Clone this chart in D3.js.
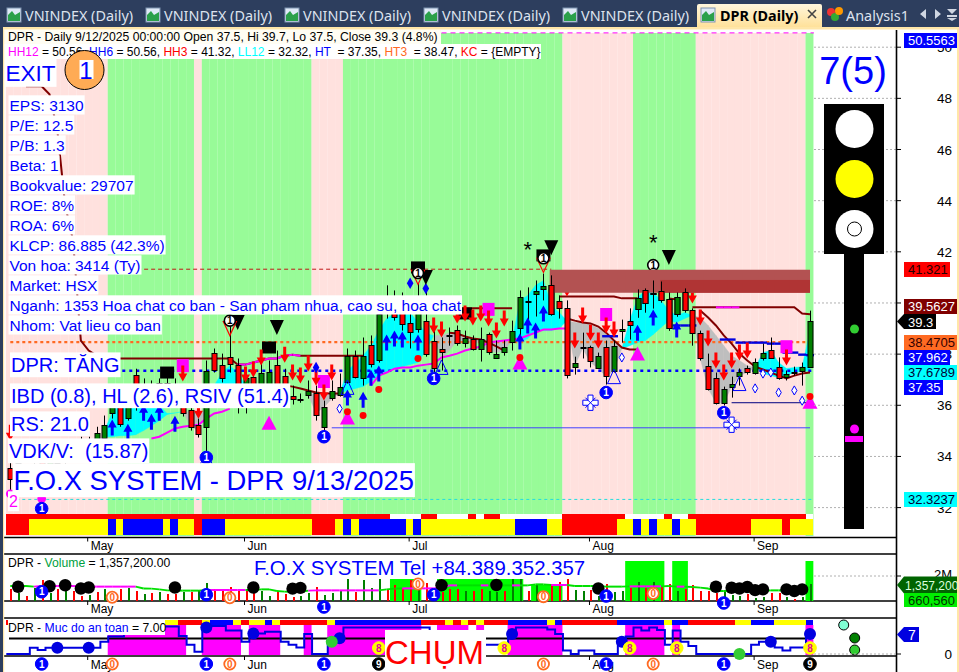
<!DOCTYPE html>
<html><head><meta charset="utf-8">
<script src="https://cdnjs.cloudflare.com/ajax/libs/d3/7.8.5/d3.min.js"></script>
<style>html,body{margin:0;padding:0;background:#fff;overflow:hidden}svg{display:block}text{font-family:"Liberation Sans",Arial,sans-serif;white-space:pre}</style>
</head><body><div id="c"></div>
<script>
// ---------- data: candles by bar index ----------
const opens=[33.56,33.05,33.44,33.25,33.84,33.68,34.03,33.92,34.31,34.15,34.54,34.42,34.74,35.71,36.38,35.52,37.20,36.77,36.26,36.89,36.50,36.77,36.38,35.83,35.24,35.16,38.06,37.59,37.87,37.59,36.66,37.12,36.81,36.77,37.59,37.16,36.38,36.26,36.38,36.50,35.16,36.26,36.38,36.93,37.94,37.08,38.37,37.75,40.18,40.10,40.10,39.20,38.96,39.31,38.53,38.22,38.75,38.96,38.45,38.61,38.22,38.77,37.87,38.06,38.49,39.04,40.09,40.33,40.53,40.72,40.06,39.82,37.51,38.26,38.26,37.48,38.26,37.36,38.92,39.31,39.79,40.49,40.40,40.45,40.14,39.59,40.41,39.71,38.81,37.55,37.08,36.07,36.73,37.16,37.44,37.28,37.87,38.18,37.51,37.12,37.32,37.32,37.5];
const closes=[33.13,33.76,32.98,33.64,33.44,34.15,33.76,34.23,34.03,34.62,34.23,34.93,35.24,36.18,35.28,36.38,35.99,36.18,36.77,36.38,36.89,36.26,35.71,35.16,34.89,37.36,37.40,37.08,37.59,36.77,37.05,36.58,37.28,37.32,36.77,36.50,36.26,36.26,36.54,35.64,35.95,36.54,36.70,37.94,37.12,37.94,37.63,39.55,39.63,39.43,39.16,38.84,40.10,38.02,37.48,38.10,38.75,38.45,38.65,38.22,38.61,38.06,38.02,38.26,38.92,40.25,40.09,40.45,40.65,39.59,39.79,37.20,37.67,38.26,37.71,37.94,37.12,38.33,38.99,39.16,40.21,39.98,40.40,40.10,39.00,40.25,39.71,38.81,37.83,36.66,36.10,36.62,36.85,37.32,37.28,37.71,38.06,37.87,37.08,37.24,37.32,37.48,39.3];
const highs=[34.62,34.03,33.64,33.92,34.15,34.38,34.31,34.46,34.62,34.77,34.77,35.16,35.60,36.50,36.66,36.66,37.43,37.05,36.97,37.05,37.20,37.05,36.77,36.18,35.48,37.75,38.22,38.02,39.24,37.83,37.48,37.43,37.75,37.75,38.14,37.43,36.77,36.46,36.97,36.77,36.18,36.97,37.24,38.22,38.14,38.65,38.73,40.10,40.69,40.49,40.41,39.98,40.77,40.61,38.92,38.65,39.04,39.12,38.92,38.73,39.04,38.84,38.53,38.53,39.31,40.49,40.61,40.88,41.15,41.08,40.29,40.10,37.90,38.84,38.33,38.06,38.53,38.53,39.35,39.79,40.53,40.57,40.88,40.84,40.41,40.41,40.57,39.79,38.92,38.02,37.28,36.73,37.12,37.44,37.55,37.83,38.41,38.65,37.87,37.36,37.51,37.67,39.7];
const lows=[32.66,32.86,32.78,33.05,33.21,33.44,33.52,33.68,33.84,33.92,33.99,34.23,34.54,35.48,35.16,35.40,35.79,35.95,36.03,36.18,36.18,36.07,35.56,35.01,34.74,33.84,37.28,36.89,37.28,35.68,35.68,36.34,36.50,36.50,36.50,36.26,36.03,36.10,36.26,35.40,34.97,36.18,36.34,36.85,37.05,36.77,37.48,37.67,39.39,39.31,38.92,38.22,38.84,37.90,37.28,37.36,38.33,38.33,38.26,38.14,37.71,37.98,37.83,37.94,38.14,38.45,39.31,39.47,40.10,39.51,39.39,37.05,37.20,37.83,37.48,37.44,36.81,37.28,38.45,38.57,39.43,39.63,39.79,40.02,38.92,39.47,39.63,38.33,37.75,36.58,36.03,35.99,36.30,36.77,37.20,37.20,37.75,37.83,37.00,36.97,37.16,36.77,37.5];
// ---------- data: indicator lines (price; null = no line) ----------
const cloudA=[null,null,null,null,null,null,null,null,null,null,null,null,35.01,35.71,36.10,36.26,36.58,36.38,36.18,35.99,35.68,35.70,35.75,35.16,35.01,35.75,36.77,37.28,37.55,37.28,36.77,null,null,null,null,null,null,null,36.38,35.71,35.91,36.26,36.46,37.36,37.63,37.94,38.33,38.92,39.39,39.59,39.67,39.63,39.24,38.81,38.73,37.83,38.14,38.53,38.45,38.45,38.45,38.14,38.06,38.14,38.53,40.10,40.29,40.69,40.88,39.90,39.63,39.31,37.55,38.22,37.67,37.44,37.12,37.36,38.22,39.31,40.21,40.49,40.41,40.10,39.71,39.51,39.63,39.51,37.83,36.66,36.10,36.07,36.73,37.16,37.28,37.48,38.06,38.14,37.67,37.44,37.48,37.51,38.92];
const cloudB=[null,null,null,null,null,null,null,null,null,null,null,null,34.77,34.77,34.81,34.81,34.85,35.01,35.20,35.40,35.64,35.70,35.75,35.75,35.75,35.75,36.18,36.18,36.18,36.18,36.18,null,null,null,null,null,null,null,36.38,36.50,36.38,36.42,36.46,36.58,36.66,36.73,36.93,37.16,37.28,37.43,37.51,37.59,37.67,38.14,38.73,38.73,38.84,38.84,38.61,38.61,38.61,38.53,38.53,38.53,38.53,38.45,38.61,38.92,38.92,38.92,39.00,39.31,39.24,39.24,39.16,39.00,38.84,38.53,38.22,38.33,38.45,38.53,38.77,39.04,39.31,39.24,39.39,39.51,39.43,39.12,38.73,38.33,37.94,37.75,37.55,37.48,37.24,37.16,37.08,37.16,37.28,37.32,37.36];
const slowRed=[null,null,null,null,null,null,null,null,null,null,null,null,null,null,null,null,null,null,null,null,null,null,null,null,null,null,null,null,null,null,null,null,null,null,null,36.77,36.73,36.66,36.58,36.50,36.46,36.46,36.46,null,null,null,null,null,null,null,null,null,null,null,null,null,38.84,38.81,38.69,38.61,38.57,38.45,38.30,38.14,null,null,null,null,null,null,null,39.39,39.31,39.24,39.20,39.08,38.84,38.53,38.26,38.18,38.18,null,null,null,null,null,null,null,39.71,39.43,39.12,38.73,38.41,38.02,37.75,37.51,37.40,37.28,37.16,37.05,37.16,37.24,37.28,null];
const slowMagenta=[null,null,null,null,null,null,null,null,null,null,null,null,null,null,null,null,null,null,34.70,34.77,34.93,35.09,35.16,35.20,35.24,35.48,35.68,35.75,35.87,null,null,null,null,null,null,null,null,null,null,null,null,null,null,null,null,null,36.77,37.16,37.28,37.43,37.48,37.48,37.55,37.59,37.63,37.87,37.94,38.02,38.14,38.22,38.30,38.45,38.49,38.53,38.57,38.61,38.73,38.84,38.96,38.96,39.00,39.00,null,null,null,null,null,null,null,null,null,null,null,null,null,null,null,null,null,null,null,null,null,null,null,null,null,null,null,null,null,null,null,null,null];
const stopLine=[null,null,48.47,48.47,48.47,48.16,46.75,43.82,42.45,38.53,38.14,37.94,37.67,37.83,37.83,37.83,37.83,37.83,37.83,37.83,37.83,37.83,37.83,37.83,37.83,37.83,37.83,37.83,37.83,37.59,37.59,37.67,37.75,37.83,37.83,37.94,37.98,37.94,37.94,37.94,37.94,37.94,37.94,37.94,37.94,37.94,null,null,39.79,39.79,39.79,39.79,39.79,39.79,39.79,39.79,39.79,39.79,39.79,39.79,39.79,39.79,39.79,39.79,39.79,null,null,null,null,null,40.25,40.25,40.25,40.25,40.25,40.25,40.25,40.25,40.18,40.18,40.18,null,null,null,40.18,40.14,null,39.83,39.83,39.83,39.83,39.83,39.83,39.83,39.83,39.83,39.83,39.83,39.83,39.83,39.83,39.59,39.56];
const stopMagenta=[29,30,31,32,33,34,35,36,90,91,92];
const blueIdx=[76,77,85,86,87,91,92,93,94,95,96,97,98,99,100,101,102];
const blueVal=[38.70,38.70,39.12,39.12,39.12,38.57,38.57,38.45,38.45,38.45,38.45,38.41,38.41,38.06,38.06,37.98,37.96];
// levels: value, colour, width, dash, first bar, last bar
const levelValues=[50.56,41.32,38.47,37.35,35.12,36.10,32.32];
const levelColors=["#ff00ff","#c01818","#ff6a22","#0000ff","#4040ff","#000080","#22dddd"];
const levelWidths=[1,1,2.4,2.4,1,1,1];
const levelDashes=["5,4","4,3","3,3","3,4",null,null,"3,3"];
const levelFrom=[55,1,0,0,41,92,0];
const levelTo=[102.5,69,102.5,102.5,102,102,102.5];
// ---------- data: background and strips (runs: kind, bars) ----------
const bandRuns=[["p",13],["g",11],["p",1],["g",14],["p",4],["g",28],["p",9],["g",8],["p",14],["g",1]];
const stripRuns=[["r",3],["y",10],["b",1],["y",1],["b",5],["y",1],["b",1],["y",2],["r",1],["b",3],["y",11],["r",3],["y",1],["b",1],["y",1],["b",6],["y",1],["b",1],["y",12],["b",4],["y",2],["r",7],["y",2],["b",1],["y",1],["b",1],["y",2],["b",1],["y",2],["r",7],["y",4],["r",1],["y",3]];
const topRuns=[["r",49],["w",4],["r",2],["w",4],["r",1],["w",1],["r",2],["w",8],["r",8],["w",5],["r",1],["w",2],["r",15],["w",1]];
const safeTopRuns=[["r",20],["y",2],["r",3],["y",1],["b",3],["y",1],["r",1],["y",2],["b",1],["y",1],["r",6],["y",1],["b",11],["r",3],["y",1],["r",1],["y",1],["r",1],["y",1],["r",3],["b",5],["y",1],["b",1],["r",7],["b",6],["y",1],["b",2],["r",6],["y",2],["b",3],["y",4],["b",1]];
const safeFill=[[13,23],[25,30],[31,35],[38,39],[41,53],[55,59],[60,61],[64,71],[79,84],[85,86],[102,103]];
// ---------- data: markers ----------
const redArrows=[[39,37.08],[41,37.28],[40,36.50],[54,39.12],[55,38.96],[57,39.51],[58,39.59],[59,39.43],[60,39.59],[61,39.39],[63,39.39],[62,38.92],[73,39.51],[72,38.53],[74,38.84],[75,38.53],[76,39.12],[77,38.96],[88,39.43],[89,38.61],[90,37.75],[91,37.28],[92,37.75],[93,38.06],[94,38.14],[99,37.87],[71,40.57],[87,40.29],[22,37.24],[24,35.79],[32,37.87],[35,37.98],[31,37.40],[30,37.20],[38,37.63],[36,37.28],[37,37.16],[0,34.93]];
const blueArrows=[[43,36.30],[45,36.22],[46,37.08],[47,37.24],[48,38.45],[49,38.61],[50,38.57],[52,38.45],[65,38.49],[66,39.12],[67,38.92],[68,39.59],[80,38.84],[82,39.43],[85,38.96],[13,35.13],[15,34.97],[17,35.71],[18,35.36],[19,35.71],[21,35.28]];
const magentaTri=[[43,35.52],[65,37.67],[80,38.02],[102,36.14],[33,35.32]];
const redDots=[[43,35.75],[52,37.83],[47,36.62],[45,35.60],[65,37.87],[102,36.34]];
const blueDots=[[39,37.48],[51,40.77],[53,40.57]];
const hollowDiamonds=[[78,37.87],[95,36.66],[98,36.50],[100,36.58],[101,36.18],[96,37.24],[97,37.28],[42,35.87]];
const hollowTri=[[43,36.70],[55,37.48],[77,37.12],[93,36.85],[25,33.92]];
const blackSquares=[[20,37.28],[33,38.26],[52,41.39],[68,41.86],[58,39.59]];
const blackTri=[[34,39.04],[29,39.24],[53,41.0],[69,42.16],[84,41.78]];
const redHollowTri=[[28,39.00],[52,41.0],[68,41.47]];
const blackRings=[[28,39.31],[52,41.17],[68,41.75],[82,41.48]];
const magentaSquares=[[22,37.55],[40,36.93],[61,39.75],[76,39.55],[99,38.29]];
const stars=[[66,42.21],[82,42.49]];
const blueOnes=[[4,31.96],[25,33.96],[40,34.77],[54,37.05],[76,36.50],[91,35.71]];
const flakes=[[74,36.10],[92,35.24]];
const magentaDots=[[0,32.54],[4,32.35]];
// ---------- data: volume (millions) ----------
const volumes=[.96,.64,.40,1.04,1.68,.64,.96,.96,.80,.40,.48,.72,.96,.64,.96,1.04,.80,.56,.64,.72,.56,.56,.72,.72,.88,1.44,.96,.96,1.12,.80,.80,.64,.80,.40,.80,.56,.32,.40,.64,1.12,.48,.64,.88,1.76,.72,1.68,1.04,1.76,.88,1.28,1.04,1.68,.96,1.44,.80,.72,.96,.96,.80,.80,.96,.80,.72,.80,1.76,1.76,.80,1.28,.72,1.36,1.52,1.76,.88,.80,.88,.40,1.36,.72,.80,1.04,1.52,1.04,1.52,1.12,1.36,.80,.96,1.28,.80,.80,.64,.72,.48,.40,.56,.24,.32,.64,.64,.32,.16,.32,1.36];
const volUp=[0,1,0,1,0,1,0,1,0,0,1,0,1,0,0,1,0,1,0,1,0,0,1,0,1,1,0,0,0,0,0,0,1,1,0,0,0,1,1,0,1,1,1,1,0,1,1,1,0,0,0,0,1,0,0,0,0,0,1,0,0,1,1,0,1,1,0,1,0,0,0,0,1,1,0,1,0,1,1,0,1,0,1,0,0,1,0,0,0,0,0,1,1,1,0,1,1,0,0,1,0,1,1];
const volMa=[1.2,1.2,1.2,1.15,1.2,1.2,1.2,1.2,1.2,1.15,1.15,1.15,1.15,1.15,1.15,1.15,1.15,1.0,.99,.93,.85,.83,.83,.83,.83,.88,.88,.88,.88,.88,.88,.88,.93,.93,.8,.75,.72,.72,.83,.85,.85,.85,.85,.85,.85,.85,.85,.85,.93,.99,1.01,1.01,1.01,1.01,1.01,1.01,1.25,1.25,1.25,1.25,1.25,1.25,1.25,1.25,1.25,1.25,1.25,1.33,1.33,1.28,1.28,1.28,1.2,1.2,1.2,1.2,1.15,1.15,1.15,1.17,1.17,1.17,1.17,1.17,1.2,1.15,1.15,1.12,1.07,1.0,.8,.8,.8,.8,.8,.8,.8,.85,.85,.85,.93,.93,1.1];
const volMaMagenta=[[3,16],[25,30],[38,47],[50,57],[60,61],[64,65],[69,71],[79,83],[85,86]];
const volBlocks=[[49,53,1.76],[55,66,1.76],[67,71,1.28],[79,84,3.2],[85,87,3.2],[102,103,3.2]];
const volDots=[[1,1.14],[5,1.18],[7,1.26],[9,1.0],[10,1.08],[21,1.08],[31,1.08],[36,.99],[37,1.05],[55,1.26],[62,1.28],[75,1.0],[90,1.14],[92,1.06],[93,1.0],[94,1.12],[95,.87],[96,.93],[99,.93],[100,.8],[101,.93]];
const volOnes=[[4,.74],[25,.5],[54,.5],[76,.4],[91,-.16],[40,-.48]];
const volZeros=[[13,.3],[28,.26],[52,1.36],[68,.35],[82,.6]];
// ---------- data: safety level ----------
const safety=[0,0,0,2.2,1.4,2.2,2.2,2.2,2.2,2.2,2.2,2.2,4.3,6.1,6.1,7.8,8.4,8.4,8.4,8.4,9.6,9.6,6.3,3.2,.8,9.3,9.8,9.8,8.2,8.2,4.3,7.2,7.2,7.8,7.8,4.3,3.2,2.3,7.0,0,0,4.3,5.5,9.3,9.3,9.3,9.3,9.3,9.3,9.3,9.3,9.3,9.3,9.3,8.0,7.0,7.0,6.5,6.0,5.5,5.5,3.2,3.2,3.2,7.0,9.3,9.3,9.3,9.3,8.6,7.0,1.2,0,1.2,1.2,0,0,0,4.3,6.1,9.3,8.2,9.3,8.4,3.2,8.2,4.3,2.8,0,0,0,0,0,0,0,3.2,4.3,4.3,2.3,1.2,2.3,2.3,7.0];
const safetyDots=[6,10,25,31,42,64,78,97,102];
const safetyGreen=[41,93];
const safetyEights=[47,63,79,85,102];
const rowOnes=[4,25,40,76,91];
const rowZeros=[13,28,68,82];
const rowNines=[47,102];
const sideDots=[[106.3,10.15,"#7fffd4"],[107.7,5.6,"#008000"],[107.7,1.4,"#32cd32"]];
// ---------- data: axis and labels ----------
const priceTicks=[32,34,36,38,40,42,44,46,48,50];
const monthIdx=[10,30,51,74,95];
const monthNames=["May","Jun","Jul","Aug","Sep"];
const infoLines=["EPS: 3130","P/E: 12.5","P/B: 1.3","Beta: 1","Bookvalue: 29707","ROE: 8%","ROA: 6%","KLCP: 86.885 (42.3%)","Von hoa: 3414 (Ty)","Market: HSX","Nganh: 1353 Hoa chat co ban - San pham nhua, cao su, hoa chat","Nhom: Vat lieu co ban"];
const tabNames=["VNINDEX (Daily)","VNINDEX (Daily)","VNINDEX (Daily)","VNINDEX (Daily)","VNINDEX (Daily)"];
const badgeTexts=["50.5563","41.321","39.5627","38.4705","37.962","37.6789","37.35","32.3237"];
const badgeFills=["#0000ff","#ff0000","#800000","#ff6a22","#0000ff","#00ffff","#0000ff","#00ffff"];
const badgeInk=["#fff","#200","#fff","#300","#fff","#003","#fff","#003"];
const badgeWidths=[53,46,53,53,46,53,39,53];
const badgeTop=[33,262,299,335,350,365,380,492];

// ---------- scales ----------
const W=959,H=672;
const x=d3.scaleLinear().domain([0,102]).range([10.3,810]);
const y=d3.scaleLinear().domain([32,50]).range([507.6,47.2]);
const yVol=d3.scaleLinear().domain([0,2]).range([601,576]);
const ySafe=d3.scaleLinear().domain([0,7]).range([654,634]);
const edge=i=>x(i)-4.5;
const svg=d3.select("#c").append("svg").attr("width",W).attr("height",H);
const expand=r=>r.flatMap(([k,n])=>Array(n).fill(k));
svg.append("defs");
const BLUE="#0000ff";

// ---------- main panel ----------
const bandColor={p:"#ffe1de",g:"#98fb98"};
const main=svg.append("g");
main.selectAll(".b").data(expand(bandRuns)).join("rect").attr("class","b").attr("x",(d,i)=>edge(i)).attr("y",33).attr("width",7.94).attr("height",503).attr("fill",d=>bandColor[d]);

// price grid right of the bars
svg.append("g").selectAll("line").data(priceTicks).join("line").attr("x1",814).attr("x2",896).attr("y1",d=>y(d)).attr("y2",d=>y(d)).attr("stroke","#b0b0b0").attr("stroke-dasharray","2,2");

// cloud
const cloud=main.append("g");
for(let i=0;i<102;i++){
  if(cloudA[i]==null||cloudA[i+1]==null)continue;
  const up=(cloudA[i]+cloudA[i+1])>=(cloudB[i]+cloudB[i+1]);
  const area=d3.area().x(k=>x(k)).y0(k=>y(cloudB[k])).y1(k=>y(cloudA[k]));
  cloud.append("path").attr("d",area([i,i+1])).attr("fill",up?"#00ffff":"#bebebe").attr("stroke",up?"#00ffff":"#bebebe").attr("stroke-width",.4);
}
// levels
main.append("g").selectAll("line").data(levelValues).join("line").attr("x1",(d,i)=>x(levelFrom[i])).attr("x2",(d,i)=>x(levelTo[i])).attr("y1",d=>y(d)).attr("y2",d=>y(d))
 .attr("stroke",(d,i)=>levelColors[i]).attr("stroke-width",(d,i)=>levelWidths[i]).attr("stroke-dasharray",(d,i)=>levelDashes[i]);
// lines
const lineOf=arr=>d3.line().defined(k=>arr[k]!=null).x(k=>x(k)).y(k=>y(arr[k]));
const idx=d3.range(103);
main.append("path").attr("d",lineOf(slowMagenta)(idx)).attr("fill","none").attr("stroke","#ff00ff").attr("stroke-width",2);
main.append("path").attr("d",lineOf(slowRed)(idx)).attr("fill","none").attr("stroke","#800000").attr("stroke-width",2);
main.append("path").attr("d",lineOf(stopLine)(idx)).attr("fill","none").attr("stroke","#800000").attr("stroke-width",2);
for(const i of stopMagenta){ if(stopLine[i]!=null&&stopLine[i+1]!=null)
  main.append("path").attr("d",lineOf(stopLine)([i,i+1])).attr("fill","none").attr("stroke","#ff00ff").attr("stroke-width",2);}
blueIdx.forEach((k,j)=>{ main.append("line").attr("x1",x(k)-4).attr("x2",x(k)+4).attr("y1",y(blueVal[j])).attr("y2",y(blueVal[j])).attr("stroke","#0000e0").attr("stroke-width",2.4);});

const arrowPath="M-1.5,-8 H1.5 V0 H4.5 L0,8 L-4.5,0 H-1.5 Z";
const put=(data)=>main.append("g").selectAll("path").data(data).join("path").attr("transform",d=>`translate(${x(d[0])},${y(d[1])})`);
const snapX=i=>Math.round(x(i));
// candles
function drawCandles(bars){
 const candle=main.append("g");
 candle.selectAll("line").data(bars).join("line").attr("x1",i=>snapX(i)+.5).attr("x2",i=>snapX(i)+.5).attr("y1",i=>y(highs[i])).attr("y2",i=>y(lows[i])).attr("stroke","#000");
 candle.selectAll("rect").data(bars).join("rect")
  .attr("x",i=>snapX(i)-2).attr("width",5)
  .attr("y",i=>Math.round(y(Math.max(opens[i],closes[i])))+.5)
  .attr("height",i=>Math.max(1,Math.round(Math.abs(y(opens[i])-y(closes[i])))))
  .attr("fill",i=>closes[i]>opens[i]?"#008000":closes[i]<opens[i]?"#ff0000":"#000")
  .attr("stroke","#000");
}
drawCandles(idx);

// markers
const sym=(t,s)=>d3.symbol().type(t).size(s)();
put(blackSquares).attr("d","M-7,-6 H7 V6 H-7 Z").attr("fill","#000");
put(magentaSquares).attr("d","M-6,-6.5 H6 V6.5 H-6 Z").attr("fill","#ff00ff");
put(redArrows).attr("d",arrowPath).attr("fill","#ff0000");
put(blueArrows).attr("d",arrowPath).attr("transform",d=>`translate(${x(d[0])},${y(d[1])}) rotate(180)`).attr("fill","#0000ff");
put(magentaTri).attr("d","M0,-7 L7.5,7 H-7.5 Z").attr("fill","#ff00ff");
put(redDots).attr("d",sym(d3.symbolCircle,38)).attr("fill","#ff0000");
put(blueDots).attr("d",sym(d3.symbolDiamond,38)).attr("fill","#0000ff");
put(hollowDiamonds).attr("d",sym(d3.symbolDiamond,24)).attr("fill","#fff").attr("stroke","#0000ff");
put(hollowTri).attr("d","M0,-7.5 L6.5,7 H-6.5 Z").attr("fill","none").attr("stroke","#0000ff");
put(blackTri).attr("d","M-7,-7.5 H7 L0,7.5 Z").attr("fill","#000");
put(redHollowTri).attr("d","M-6.5,-7 H6.5 L0,7 Z").attr("fill","none").attr("stroke","#ff0000").attr("stroke-width",1.2);
put(blackRings).attr("d",sym(d3.symbolCircle,95)).attr("fill","#fff").attr("stroke","#000").attr("stroke-width",1.6);
main.append("g").selectAll("text").data(blackRings).join("text").attr("x",d=>x(d[0])).attr("y",d=>y(d[1])+3.5).attr("text-anchor","middle").attr("font-size",10).attr("font-weight","bold").attr("fill","#000").text("1");
put(flakes).attr("d",sym(d3.symbolCross,130)).attr("fill","#fff").attr("stroke","#0000ff");
put(flakes).attr("d","M-5,-5 L5,5 M5,-5 L-5,5").attr("stroke","#0000ff").attr("fill","none");
put(magentaDots).attr("d",sym(d3.symbolCircle,60)).attr("fill","#ff00ff");
main.append("g").selectAll("text").data(stars).join("text").attr("x",d=>x(d[0])).attr("y",d=>y(d[1])+11).attr("text-anchor","middle").attr("font-size",22).attr("fill","#000").text("*");

function digit(g,cx,cy,t,kind){
 const st={blue:["#0000ff","#0000ff","#fff"],orange:["#fff","#ff6a22","#ff6a22"],yellow:["#ffff00","#ffff00","#e000a0"],black:["#000","#000","#fff"]}[kind];
 g.append("circle").attr("cx",cx).attr("cy",cy).attr("r",kind=="orange"?5.6:6.3).attr("fill",st[0]).attr("stroke",st[1]).attr("stroke-width",kind=="orange"?1.8:1);
 g.append("text").attr("x",cx).attr("y",cy+3.5).attr("text-anchor","middle").attr("font-size",10).attr("font-weight","bold").attr("fill",st[2]).text(t);
}
blueOnes.forEach(d=>digit(main,x(d[0]),y(d[1]),"1","blue"));

// supply zone sits over the markers; candles that cross it are drawn again on top
main.append("rect").attr("x",x(68.8)).attr("y",y(41.3)).attr("width",x(102)-x(68.8)).attr("height",y(40.4)-y(41.3)).attr("fill","#b35252");
main.append("rect").attr("x",x(82.9)).attr("y",y(40.9)).attr("width",x(102)-x(82.9)).attr("height",y(40.4)-y(40.9)).attr("fill","#b03434");
drawCandles(idx.filter(i=>i>=69&&highs[i]>40.4));

// strip
const strip=svg.append("g").attr("shape-rendering","crispEdges");
const stripColor={r:"#ff0000",y:"#ffff00",b:"#0000ff",w:"#ffffff"};
strip.selectAll(".a").data(expand(topRuns)).join("rect").attr("class","a").attr("x",(d,i)=>edge(i)).attr("y",514).attr("width",7.94).attr("height",5).attr("fill",d=>stripColor[d]);
strip.selectAll(".s").data(expand(stripRuns)).join("rect").attr("class","s").attr("x",(d,i)=>edge(i)).attr("y",519).attr("width",7.94).attr("height",16).attr("fill",d=>stripColor[d]);

// header legend
const hdr=svg.append("g").attr("font-size",12);
hdr.append("rect").attr("x",4).attr("y",30).attr("width",437).attr("height",14).attr("fill","#fffdf3");
hdr.append("rect").attr("x",4).attr("y",44).attr("width",537).attr("height",15).attr("fill","#fff");
hdr.append("text").attr("x",8).attr("y",41).attr("font-size",12.2).attr("fill","#000").text("DPR - Daily 9/12/2025 00:00:00 Open 37.5, Hi 39.7, Lo 37.5, Close 39.3 (4.8%)");
const second=[["HH12","#ff00ff"],[" = 50.56, ","#000"],["HH6","#0000ff"],[" = 50.56, ","#000"],["HH3","#ff0000"],[" = 41.32, ","#000"],["LL12","#00ffff"],[" = 32.32, ","#000"],["HT ","#0000ff"],[" = 37.35, ","#000"],["HT3 ","#ff6a22"],[" = 38.47, ","#000"],["KC","#ff0000"],[" = {EMPTY}","#000"]];
const t2=hdr.append("text").attr("x",8).attr("y",55.5);
second.forEach(([s,c])=>t2.append("tspan").attr("fill",c).text(s));

// boxed labels
function boxed(tx,ty,str,size,opts={}){
 const g=svg.append("g");
 const t=g.append("text").attr("x",tx).attr("y",ty).attr("font-size",size).attr("fill",opts.color||BLUE).text(str);
 const w=t.node().getComputedTextLength();
 const pad=opts.pad==null?1:opts.pad;
 g.insert("rect","text").attr("x",tx-pad).attr("y",ty-size*.98).attr("width",w+pad*2).attr("height",size*1.24).attr("fill","#fff");
}
infoLines.forEach((s,i)=>boxed(9.5,110.5+i*20,s,15.5));
boxed(5.5,81,"EXIT",22.5,{pad:1});
svg.append("circle").attr("cx",84.5).attr("cy",70).attr("r",19.5).attr("fill","#ffab55").attr("stroke","#000");
svg.append("rect").attr("x",79.5).attr("y",60).attr("width",14).attr("height",19).attr("fill","#fff");
svg.append("text").attr("x",86).attr("y",79).attr("text-anchor","middle").attr("font-size",24).attr("fill",BLUE).text("1");
boxed(11,372,"DPR: TĂNG",20,{pad:1});
boxed(11,403,"IBD (0.8), HL (2.6), RSIV (51.4)",20,{pad:1});
boxed(11,431,"RS: 21.0",20,{pad:1});
boxed(9,458,"VDK/V:  (15.87)",20,{pad:1});
boxed(13.5,490,"F.O.X SYSTEM - DPR 9/13/2025",27.4,{pad:1});
boxed(9,507,"2",16,{color:"#ff00ff",pad:1});

// traffic light
const tl=svg.append("g");
tl.append("text").attr("x",853).attr("y",84).attr("text-anchor","middle").attr("font-size",38).attr("fill",BLUE).text("7(5)");
tl.append("rect").attr("x",824).attr("y",104).attr("width",60).attr("height",150).attr("fill","#000");
tl.append("rect").attr("x",844).attr("y",254).attr("width",20).attr("height",275).attr("fill","#000");
tl.append("circle").attr("cx",854.5).attr("cy",129).attr("r",19).attr("fill","#fff");
tl.append("circle").attr("cx",854.5).attr("cy",179).attr("r",19).attr("fill","#ffff00");
tl.append("circle").attr("cx",854.5).attr("cy",229).attr("r",19).attr("fill","#fff");
tl.append("circle").attr("cx",854.5).attr("cy",229).attr("r",7).attr("fill","#fff").attr("stroke","#000");
tl.append("circle").attr("cx",854.5).attr("cy",329).attr("r",4.5).attr("fill","#32cd32");
tl.append("circle").attr("cx",854.5).attr("cy",429).attr("r",4.5).attr("fill","#ff00ff");
tl.append("rect").attr("x",845).attr("y",436).attr("width",18).attr("height",6).attr("fill","#ff00ff");

// ---------- panel rules, month axes ----------
const rules=svg.append("g").attr("stroke","#000");
[537.5,554,601,618,656].forEach(v=>rules.append("line").attr("x1",4).attr("x2",896).attr("y1",v).attr("y2",v).attr("stroke-width",1.6));
rules.append("line").attr("x1",896.5).attr("x2",896.5).attr("y1",30).attr("y2",672).attr("stroke-width",1.6);
[[537.5,545],[601,608],[656,664]].forEach(([ln,ty],row)=>{
 monthIdx.forEach((m,j)=>{
  if(row==2&&monthNames[j]=="Jul")return;   // covered by the CHỤM box in the source
  const tx=x(m)-1;
  svg.append("line").attr("x1",tx).attr("x2",tx).attr("y1",ln).attr("y2",ln+4).attr("stroke","#000");
  svg.append("text").attr("x",tx+3).attr("y",ty+4.5).attr("font-size",12).attr("fill","#000").text(monthNames[j]);
 });
});

// ---------- volume panel ----------
const vol=svg.append("g");
vol.selectAll(".blk").data(volBlocks).join("rect").attr("class","blk").attr("x",d=>edge(d[0])).attr("width",d=>edge(d[1])-edge(d[0])).attr("y",d=>yVol(d[2])).attr("height",d=>601-yVol(d[2])).attr("fill","#00ff00");
vol.selectAll(".vb").data(volumes).join("rect").attr("class","vb").attr("x",(d,i)=>snapX(i)).attr("width",2).attr("y",d=>yVol(d)).attr("height",d=>601-yVol(d)).attr("fill",(d,i)=>volUp[i]?"#008000":"#ff0000");
const isMag=i=>volMaMagenta.some(([a,b])=>i>=a&&i<b);
for(let i=0;i<102;i++){
 vol.append("line").attr("x1",x(i)).attr("x2",x(i+1)).attr("y1",yVol(volMa[i])).attr("y2",yVol(volMa[i+1])).attr("stroke",isMag(i)?"#ff00ff":"#00e000").attr("stroke-width",2);
}
vol.selectAll(".vd").data(volDots).join("circle").attr("class","vd").attr("cx",d=>x(d[0])).attr("cy",d=>yVol(d[1])).attr("r",6.2).attr("fill","#000");
volOnes.forEach(d=>digit(vol,x(d[0]),yVol(d[1]),"1","blue"));
volZeros.forEach(d=>digit(vol,x(d[0]),yVol(d[1]),"0","orange"));
const vt=vol.append("text").attr("x",8).attr("y",567).attr("font-size",12.2);
[["DPR - ","#000"],["Volume","#00a040"],[" = 1,357,200.00","#000"]].forEach(([s,c])=>vt.append("tspan").attr("fill",c).text(s));
vol.append("text").attr("x",254).attr("y",575).attr("font-size",20.4).attr("fill",BLUE).text("F.O.X SYSTEM Tel +84.389.352.357");
vol.append("line").attr("x1",814).attr("x2",896).attr("y1",yVol(2)).attr("y2",yVol(2)).attr("stroke","#b0b0b0").attr("stroke-dasharray","2,2");

// ---------- safety panel ----------
const safe=svg.append("g");
safe.selectAll(".sf").data(safeFill).join("rect").attr("class","sf").attr("x",d=>edge(d[0])).attr("width",d=>edge(d[1])-edge(d[0])).attr("y",625).attr("height",30).attr("fill","#ff00ff");
safe.append("g").attr("shape-rendering","crispEdges").selectAll("rect").data(expand(safeTopRuns)).join("rect").attr("x",(d,i)=>edge(i)).attr("y",620).attr("width",7.94).attr("height",5).attr("fill",d=>stripColor[d]);
safe.append("line").attr("x1",9).attr("x2",806).attr("y1",638.5).attr("y2",638.5).attr("stroke","#000").attr("stroke-width",2);
safe.append("path").attr("d",d3.line().curve(d3.curveStepAfter).x(i=>x(i)-4).y(i=>ySafe(safety[i]))(idx)).attr("fill","none").attr("stroke","#0000e0").attr("stroke-width",2);
safe.selectAll(".sd").data(safetyDots).join("circle").attr("class","sd").attr("cx",i=>x(i)).attr("cy",i=>ySafe(safety[i])).attr("r",6).attr("fill","#0000e0");
safe.selectAll(".sg").data(safetyGreen).join("circle").attr("class","sg").attr("cx",i=>x(i)).attr("cy",i=>ySafe(safety[i])).attr("r",6).attr("fill","#33cc33");
safe.selectAll(".sx").data(sideDots).join("circle").attr("class","sx").attr("cx",d=>x(d[0])).attr("cy",d=>ySafe(d[1])).attr("r",5).attr("fill",d=>d[2]).attr("stroke","#000");
safetyEights.forEach(i=>digit(safe,x(i),ySafe(2.1),"8","yellow"));
rowOnes.forEach(i=>digit(safe,x(i),664,"1","blue"));
rowZeros.forEach(i=>digit(safe,x(i),664,"0","orange"));
rowNines.forEach(i=>digit(safe,x(i),664,"9","black"));
safe.append("rect").attr("x",7).attr("y",620).attr("width",158).attr("height",15).attr("fill","#fff");
safe.append("rect").attr("x",6).attr("y",620).attr("width",2).attr("height",5).attr("fill","#f00");
const st=safe.append("text").attr("x",8).attr("y",632).attr("font-size",12.2);
[["DPR - ","#000"],["Muc do an toan","#0000ff"],[" = 7.00","#000"]].forEach(([s,c])=>st.append("tspan").attr("fill",c).text(s));
safe.append("rect").attr("x",385).attr("y",630).attr("width",101).attr("height",42).attr("fill","#fff");
safe.append("text").attr("x",385).attr("y",664).attr("font-size",33).attr("fill","#ff0000").text("CHỤM");

// price ticks
const pa=svg.append("g");
pa.selectAll("line").data(priceTicks).join("line").attr("x1",896).attr("x2",901).attr("y1",d=>y(d)).attr("y2",d=>y(d)).attr("stroke","#000");
pa.selectAll("text").data(priceTicks).join("text").attr("x",952).attr("y",d=>y(d)+5).attr("text-anchor","end").attr("font-size",13.5).attr("fill","#000").text(d=>d);
pa.append("line").attr("x1",896).attr("x2",901).attr("y1",yVol(2)).attr("y2",yVol(2)).attr("stroke","#000");
pa.append("text").attr("x",952).attr("y",yVol(2)+3).attr("text-anchor","end").attr("font-size",13).text("2M");
pa.append("line").attr("x1",896).attr("x2",901).attr("y1",ySafe(0)).attr("y2",ySafe(0)).attr("stroke","#000");
pa.append("text").attr("x",952).attr("y",ySafe(0)+5).attr("text-anchor","end").attr("font-size",13.5).text("0");
svg.append("line").attr("x1",814).attr("x2",896).attr("y1",ySafe(0)).attr("y2",ySafe(0)).attr("stroke","#b0b0b0").attr("stroke-dasharray","2,2");

// badges
const bd=svg.append("g");
badgeTexts.forEach((t,i)=>{
 bd.append("rect").attr("x",904).attr("y",badgeTop[i]).attr("width",badgeWidths[i]).attr("height",15).attr("fill",badgeFills[i]);
 bd.append("text").attr("x",908).attr("y",badgeTop[i]+12).attr("font-size",13).attr("fill",badgeInk[i]).text(t);
});
function flag(xL,xR,yC,h,fill,ink,str,tx,fs){
 bd.append("path").attr("d",`M${xL},${yC} L${xL+7},${yC-h/2} H${xR} V${yC+h/2} H${xL+7} Z`).attr("fill",fill);
 bd.append("text").attr("x",tx).attr("y",yC+5).attr("font-size",fs).attr("fill",ink).text(str);
}
flag(897,936,321.5,15,"#000","#fff","39.3",908,13);
flag(897,957,585,17,"#006400","#ddffdd","1,357,200",905,12);
bd.append("rect").attr("x",904).attr("y",593).attr("width",53).attr("height",14).attr("fill","#00ee00");
bd.append("text").attr("x",908).attr("y",605).attr("font-size",13).attr("fill","#003300").text("660,560");
flag(897,919,634.5,15,"#0000e0","#fff","7",908,14);

// ---------- window chrome ----------
const ch=svg.append("g");
ch.append("rect").attr("x",0).attr("y",0).attr("width",W).attr("height",27).attr("fill","#2d3e5e");
ch.append("rect").attr("x",0).attr("y",0).attr("width",3).attr("height",H).attr("fill","#2d3e5e");
ch.append("rect").attr("x",3).attr("y",27).attr("width",W-3).attr("height",2.5).attr("fill","#ffe6a8");
ch.append("rect").attr("x",3).attr("y",27).attr("width",1.2).attr("height",H).attr("fill","#ffe6a8");
ch.append("rect").attr("x",957).attr("y",27).attr("width",2).attr("height",H).attr("fill","#ffe6a8");
const icon=(ix)=>{
 ch.append("rect").attr("x",ix).attr("y",8).attr("width",14).attr("height",14).attr("fill","#dfe9f7").attr("stroke","#7f93b0");
 ch.append("path").attr("d",`M${ix+1},21 V15 L${ix+5},11 L${ix+8},15 L${ix+13},12 V21 Z`).attr("fill","#2aa04a");
};
tabNames.forEach((s,i)=>{
 const ox=7+i*139;
 icon(ox);
 ch.append("text").attr("x",ox+18).attr("y",20.5).attr("font-size",14.4).style("font-family","'Noto Sans'").attr("fill","#dde3ee").text(s);
});
const grad=svg.select("defs").append("linearGradient").attr("id","tab").attr("x1",0).attr("x2",0).attr("y1",0).attr("y2",1);
grad.append("stop").attr("offset",0).attr("stop-color","#fff6dc");
grad.append("stop").attr("offset",1).attr("stop-color","#ffe19a");
ch.append("path").attr("d","M697,27 V6 Q697,4 699,4 H820 Q822,4 822,6 V27 Z").attr("fill","url(#tab)");
icon(701);
ch.append("text").attr("x",720).attr("y",20.5).attr("font-size",14.4).attr("font-weight","bold").style("font-family","'Noto Sans'").attr("fill","#000").text("DPR (Daily)");
ch.append("path").attr("d","M808,10 L816,18 M816,10 L808,18").attr("stroke","#444").attr("stroke-width",1.6);
[["#e33",831,12],["#3a3",835,17],["#f90",839,11]].forEach(([c,a,b])=>ch.append("circle").attr("cx",a).attr("cy",b).attr("r",4).attr("fill",c));
ch.append("text").attr("x",846).attr("y",20.5).attr("font-size",14.4).style("font-family","'Noto Sans'").attr("fill","#dde3ee").text("Analysis1");
ch.append("path").attr("d","M926,9 L920,14 L926,19 Z M935,9 L941,14 L935,19 Z M947,9 H957 L952,14 Z M947,15 H957 V17 H947 Z M947,18 H957 L952,21 Z").attr("fill","#cfd6e2");
</script>
</body></html>
